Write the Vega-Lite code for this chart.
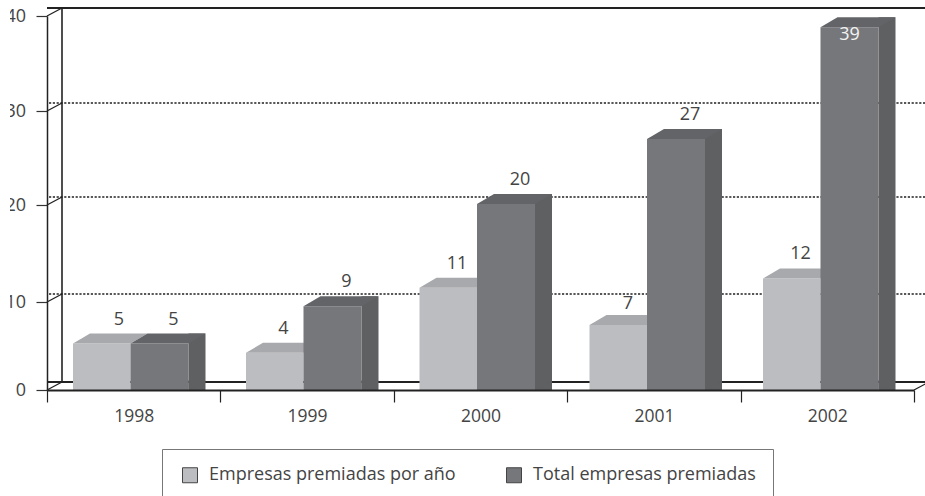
{
"$schema":"https://vega.github.io/schema/vega-lite/v6.json",
"width":867,"height":374,
"autosize":{"type":"none"},
"padding":{"left":47,"top":16,"right":11,"bottom":106},
"background":"white",
"config":{"view":{"stroke":null},"font":"Open Sans"},
"datasets":{
"bars":[
{"year":1998,"serie":"Empresas premiadas por año","v":5},
{"year":1999,"serie":"Empresas premiadas por año","v":4},
{"year":2000,"serie":"Empresas premiadas por año","v":11},
{"year":2001,"serie":"Empresas premiadas por año","v":7},
{"year":2002,"serie":"Empresas premiadas por año","v":12},
{"year":1998,"serie":"Total empresas premiadas","v":5},
{"year":1999,"serie":"Total empresas premiadas","v":9},
{"year":2000,"serie":"Total empresas premiadas","v":20},
{"year":2001,"serie":"Total empresas premiadas","v":27},
{"year":2002,"serie":"Total empresas premiadas","v":39}
],
"levels":[{"level":0},{"level":10},{"level":20},{"level":30},{"level":40}]
},
"resolve":{"scale":{"x":"independent","y":"independent"},"axis":{"x":"independent","y":"independent"}},
"layer":[
{
"data":{"name":"levels"},
"encoding":{
"y":{"field":"level","type":"quantitative","scale":{"domain":[0,10,20,30,40],"range":[374,286,189,95,0]},
"axis":{"values":[0,10,20,30,40],"title":null,"grid":false,"tickSize":11,"tickColor":"#333","tickWidth":1.2,"domainColor":"#222","domainWidth":1.5,"labelPadding":10.5,"labelFontSize":18,"labelColor":"#444","labelFont":"Open Sans"}}
},
"layer":[
{"mark":{"type":"rule","xOffset":15,"x2Offset":15,"yOffset":-8,"stroke":"#222","strokeWidth":1.4,"strokeDash":[2.2,1.6]},"transform":[{"filter":"datum.level>0 && datum.level<40"}]},
{"mark":{"type":"rule","xOffset":15,"x2Offset":15,"yOffset":-8,"stroke":"#222","strokeWidth":2.2},"transform":[{"filter":"datum.level==0 || datum.level==40"}]},
{"mark":{"type":"rule","xOffset":15,"yOffset":-8,"y2Offset":-8,"stroke":"#222","strokeWidth":1.6},"data":{"values":[{"a":1}]},"encoding":{"y":{"value":0},"y2":{"value":374},"x":{"datum":"1998","type":"nominal","bandPosition":0}}},
{"mark":{"type":"point","shape":"M0,0L15,-8","size":4,"filled":false,"stroke":"#222","strokeWidth":1.3,"opacity":1},"encoding":{"x":{"datum":"1998","type":"nominal","bandPosition":0,"scale":{"type":"band","domain":["1998","1999","2000","2001","2002"],"paddingInner":0,"paddingOuter":0},"axis":{"title":null,"labelAngle":0,"labelAlign":"center","labelBaseline":"top","tickBand":"extent","tickExtra":true,"tickSize":12,"tickColor":"#222","tickWidth":1.2,"domainColor":"#222","domainWidth":1.8,"labelFontSize":17.5,"labelFont":"Open Sans","labelColor":"#444","labelPadding":5,"zindex":1},"title":null}}},
{"mark":{"type":"point","shape":"M0,0L15,-8","size":4,"filled":false,"stroke":"#222","strokeWidth":1.3,"opacity":1},"transform":[{"filter":"datum.level==0"}],"encoding":{"x":{"datum":"2002","type":"nominal","bandPosition":1}}},
{"mark":{"type":"rule","xOffset":-47,"strokeWidth":20,"strokeCap":"square","stroke":"white"},"data":{"values":[{"a":1}]},"encoding":{"y":{"value":0},"y2":{"value":374},"x":{"datum":"1998","type":"nominal","bandPosition":0}}}
]
},
{
"data":{"name":"bars"},
"encoding":{
"x":{"field":"year","type":"quantitative","scale":{"domain":[1998,1999,2000,2001,2002],"range":[83.5,256.5,430,600,773.5],"padding":0,"nice":false,"zero":false},"axis":null},
"y":{"field":"v","type":"quantitative","stack":null,"scale":{"domain":[0,40],"range":[374,2],"nice":false},"axis":null}
},
"layer":[
{"transform":[{"filter":"datum.serie=='Empresas premiadas por año'"}],
"layer":[
{"mark":{"type":"bar","width":57.5,"xOffset":-28.75},"encoding":{"color":{"field":"serie","type":"nominal","scale":{"domain":["Empresas premiadas por año","Total empresas premiadas"],"range":["#bcbdc1","#76777b"]},
"legend":{"title":null,"orient":"none","legendX":115,"legendY":433,"direction":"horizontal","columns":2,"symbolType":"square","symbolSize":225,"symbolStrokeColor":"#444","symbolStrokeWidth":1,"symbolOffset":2,"labelFont":"Open Sans","labelFontSize":18,"labelColor":"#444","labelOffset":10,"labelLimit":300,"strokeColor":"#777","padding":17,"columnPadding":47}}}},
{"mark":{"type":"point","shape":"M-57.5,0L-40.5,-10L17,-10L0,0Z","size":4,"filled":true,"fill":"#a8a9ac","opacity":1}}
]},
{"transform":[{"filter":"datum.serie=='Total empresas premiadas'"}],
"layer":[
{"mark":{"type":"bar","width":17,"xOffset":66.5,"yOffset":-10,"y2Offset":-10,"fill":"#5f6062"}},
{"mark":{"type":"point","shape":"M58,0L58,-10L75,-10Z","size":4,"filled":true,"fill":"#5f6062","opacity":1},"encoding":{"y":{"datum":0,"type":"quantitative"}}},
{"mark":{"type":"bar","width":58,"xOffset":29},"encoding":{"color":{"field":"serie","type":"nominal"}}},
{"mark":{"type":"point","shape":"M0,0L17,-10L75,-10L58,0Z","size":4,"filled":true,"fill":"#636467","opacity":1}}
]},
{"transform":[{"filter":"datum.serie=='Empresas premiadas por año' && datum.year>1998 && datum.v!=7"}],
"mark":{"type":"text","font":"Open Sans","fontSize":18,"fill":"#444","xOffset":-20,"yOffset":-24},"encoding":{"text":{"field":"v","type":"quantitative"}}},
{"transform":[{"filter":"datum.v==7"}],
"mark":{"type":"text","font":"Open Sans","fontSize":18,"fill":"#444","xOffset":-19,"yOffset":-21},"encoding":{"text":{"field":"v","type":"quantitative"}}},
{"transform":[{"filter":"datum.serie=='Empresas premiadas por año' && datum.year==1998"}],
"mark":{"type":"text","font":"Open Sans","fontSize":18,"fill":"#444","xOffset":-11.5,"yOffset":-24},"encoding":{"text":{"field":"v","type":"quantitative"}}},
{"transform":[{"filter":"datum.serie=='Total empresas premiadas' && datum.v<39"}],
"mark":{"type":"text","font":"Open Sans","fontSize":18,"fill":"#444","xOffset":43,"yOffset":-24},"encoding":{"text":{"field":"v","type":"quantitative"}}},
{"transform":[{"filter":"datum.v==39"}],
"mark":{"type":"text","font":"Open Sans","fontSize":18,"fill":"#f2f2f2","xOffset":29,"yOffset":8},"encoding":{"text":{"field":"v","type":"quantitative"}}}
]
}
]
}
